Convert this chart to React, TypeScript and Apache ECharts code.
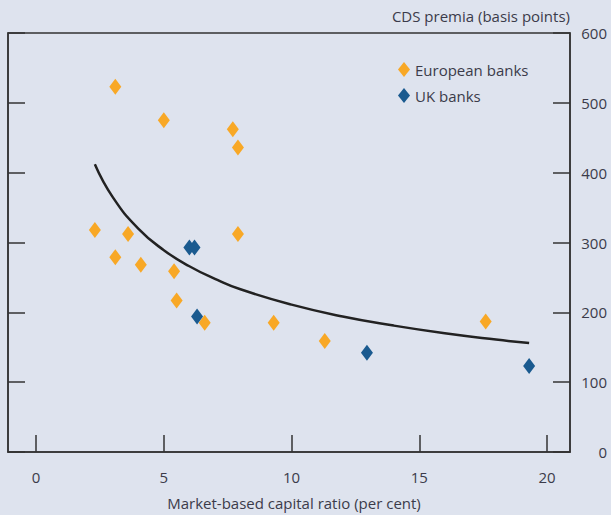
import React, { useEffect, useRef } from "react";
import * as echarts from "echarts";

const europeanBanks: [number, number][] = [
  [2.3, 318], [3.1, 523], [3.1, 279], [3.6, 312], [4.1, 268],
  [5.0, 475], [5.4, 259], [5.5, 217], [6.6, 185], [7.7, 462],
  [7.9, 436], [7.9, 312], [9.3, 185], [11.3, 159], [17.6, 187],
];
const ukBanks: [number, number][] = [
  [6.0, 293], [6.2, 293], [6.3, 194], [12.95, 142], [19.3, 123],
];
const fitX = [2.3, 3, 4, 5, 6, 7, 8, 10, 12, 14, 16, 18, 19.3];
const fitY = [412, 365, 320, 289, 266, 248, 233, 211, 194, 181, 170, 161, 156];
const xTicks = [0, 5, 10, 15, 20];

const FONT = "'Open Sans', sans-serif";
const TEXT = "#3b3b4a";
const LINE = "#333333";

export default function App() {
  const ref = useRef<HTMLDivElement>(null);
  useEffect(() => {
    if (!ref.current) return;
    const chart = echarts.init(ref.current, undefined, { renderer: "svg" });
    chart.setOption({
      animation: false,
      backgroundColor: "#dee3ee",
      textStyle: { fontFamily: FONT },
      grid: {
        left: 8, right: 41, top: 33, bottom: 53,
        show: true, borderColor: LINE, borderWidth: 1.5, backgroundColor: "transparent",
      },
      legend: {
        data: ["European banks", "UK banks"],
        orient: "vertical",
        left: 398, top: 62, padding: 0,
        itemWidth: 12, itemHeight: 15, itemGap: 11,
        textStyle: { fontFamily: FONT, fontSize: 15, color: TEXT },
      },
      xAxis: {
        type: "value",
        min: -1.1, max: 20.9,
        name: "Market-based capital ratio (per cent)",
        nameLocation: "middle",
        nameGap: 43,
        nameTextStyle: { fontFamily: FONT, fontSize: 15, color: TEXT, padding: [0, 0, 0, 10] },
        axisLine: { show: true, onZero: false, lineStyle: { color: LINE, width: 1.5 } },
        axisTick: { show: true, inside: true, length: 17, customValues: xTicks, lineStyle: { color: LINE, width: 1.5 } },
        axisLabel: { customValues: xTicks, margin: 17, fontSize: 15, color: TEXT, fontFamily: FONT },
        splitLine: { show: false },
      },
      yAxis: [
        {
          type: "value", position: "right", min: 0, max: 600, interval: 100,
          name: "CDS premia (basis points)",
          nameLocation: "end",
          nameGap: 10,
          nameTextStyle: { fontFamily: FONT, fontSize: 15, color: TEXT, align: "right", padding: [0, 0, 0, 0] },
          axisLine: { show: true, onZero: false, lineStyle: { color: LINE, width: 1.5 } },
          axisTick: { show: true, inside: true, length: 17, lineStyle: { color: LINE, width: 1.5 } },
          axisLabel: { margin: 37, align: "right", fontSize: 15, color: TEXT, fontFamily: FONT },
          splitLine: { show: false },
        },
        {
          type: "value", position: "left", min: 0, max: 600, interval: 100,
          axisLine: { show: true, onZero: false, lineStyle: { color: LINE, width: 1.5 } },
          axisTick: { show: true, inside: true, length: 17, lineStyle: { color: LINE, width: 1.5 } },
          axisLabel: { show: false },
          splitLine: { show: false },
        },
      ],
      series: [
        {
          name: "Fitted curve",
          type: "line",
          data: fitX.map((x, i) => [x, fitY[i]]),
          smooth: true,
          showSymbol: false,
          lineStyle: { color: "#222222", width: 2.5 },
          itemStyle: { color: "#222222" },
          z: 1,
        },
        {
          name: "European banks",
          type: "scatter",
          data: europeanBanks,
          symbol: "diamond",
          symbolSize: [12, 16],
          itemStyle: { color: "#f8a826", opacity: 1 },
          z: 3,
        },
        {
          name: "UK banks",
          type: "scatter",
          data: ukBanks,
          symbol: "diamond",
          symbolSize: [12, 16],
          itemStyle: { color: "#1a5a8f", opacity: 1 },
          z: 4,
        },
      ],
    });
    return () => chart.dispose();
  }, []);
  return (
    <div
      ref={ref}
      style={{ position: "fixed", left: 0, top: 0, width: 611, height: 515 }}
    />
  );
}
